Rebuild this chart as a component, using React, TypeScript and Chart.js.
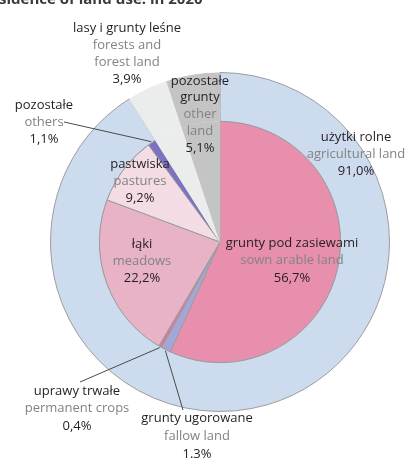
import React, { useEffect, useRef } from "react";
import { Chart, registerables } from "chart.js";

Chart.register(...registerables);

// ---- data ----
const outerCategories = ["użytki rolne", "lasy i grunty leśne", "pozostałe grunty"];
const outerValues = [91.0, 3.9, 5.1];
const innerCategories = [
  "grunty pod zasiewami",
  "grunty ugorowane",
  "uprawy trwałe",
  "łąki",
  "pastwiska",
  "pozostałe",
  "lasy i grunty leśne",
  "pozostałe grunty",
];
const innerValues = [56.7, 1.3, 0.4, 22.2, 9.2, 1.1, 3.9, 5.1];

const labelPl = [
  ["lasy i grunty leśne"],
  ["pozostałe"],
  ["pozostałe", "grunty"],
  ["użytki rolne"],
  ["pastwiska"],
  ["łąki"],
  ["grunty pod zasiewami"],
  ["uprawy trwałe"],
  ["grunty ugorowane"],
];
const labelEn = [
  ["forests and", "forest land"],
  ["others"],
  ["other", "land"],
  ["agricultural land"],
  ["pastures"],
  ["meadows"],
  ["sown arable land"],
  ["permanent crops"],
  ["fallow land"],
];
const labelPct = ["3,9%", "1,1%", "5,1%", "91,0%", "9,2%", "22,2%", "56,7%", "0,4%", "1.3%"];
const titleText = "sidence of land use: in 2020";

// ---- styles / layout ----
const outerColors = ["#cddbef", "#ebecec", "#c4c4c4"];
const innerColors = ["#e98fae", "#a6a5d8", "#dc7898", "#e8b2c7", "#f3dce4", "#7d71c2", "#ebecec", "#c4c4c4"];
const lineGray = "#9c9c9c";
const labelPos = [
  [127, 28],
  [44, 105],
  [200, 81],
  [356, 137],
  [140, 164],
  [142, 244],
  [292, 243],
  [77, 391],
  [197, 418],
];
const labelLineH = [17, 17, 16.7, 17, 17, 17, 17.5, 17.5, 18];
// leader lines: inner slice index -> free end
const leaders = [
  { index: 5, x: 64, y: 122 },
  { index: 2, x: 80, y: 382 },
  { index: 1, x: 183, y: 410 },
];

const FONT = "'Open Sans', Lato, sans-serif";

const labelPlugin = {
  id: "customLabels",
  afterDatasetsDraw(chart: any) {
    const ctx: CanvasRenderingContext2D = chart.ctx;
    ctx.save();
    // title (cut off at top)
    ctx.font = `bold 15px ${FONT}`;
    ctx.fillStyle = "#3a3a3a";
    ctx.textAlign = "left";
    ctx.textBaseline = "alphabetic";
    ctx.fillText(titleText, -1, 4);

    // leader lines
    const inner = chart.getDatasetMeta(1).data;
    ctx.strokeStyle = "#4a4a4a";
    ctx.lineWidth = 1;
    leaders.forEach((l) => {
      const arc: any = inner[l.index];
      const p = arc.getProps(["x", "y", "startAngle", "endAngle", "outerRadius"], true);
      const a = (p.startAngle + p.endAngle) / 2;
      const r = p.outerRadius + 1;
      ctx.beginPath();
      ctx.moveTo(l.x, l.y);
      ctx.lineTo(p.x + Math.cos(a) * r, p.y + Math.sin(a) * r);
      ctx.stroke();
    });

    // labels
    ctx.textAlign = "center";
    ctx.textBaseline = "middle";
    labelPl.forEach((pl, i) => {
      const [x, y0] = labelPos[i];
      const lh = labelLineH[i];
      let y = y0;
      ctx.font = `13px ${FONT}`;
      pl.forEach((t) => {
        ctx.fillStyle = "#231f20";
        ctx.fillText(t, x, y);
        y += lh;
      });
      labelEn[i].forEach((t) => {
        ctx.fillStyle = "#838383";
        ctx.fillText(t, x, y);
        y += lh;
      });
      ctx.fillStyle = "#231f20";
      ctx.fillText(labelPct[i], x, y);
    });
    ctx.restore();
  },
};

export default function App() {
  const ref = useRef<HTMLCanvasElement | null>(null);
  useEffect(() => {
    document.body.style.margin = "0";
    if (!ref.current) return;
    const outerBorder = outerColors.map((c, i) => (i === 0 ? lineGray : c));
    const innerBorder = innerColors.map((c, i) => (i >= 6 ? c : lineGray));
    const chart = new Chart(ref.current, {
      type: "pie",
      data: {
        labels: innerCategories,
        datasets: [
          {
            label: "outer",
            data: outerValues,
            backgroundColor: outerColors,
            borderColor: outerBorder,
            borderWidth: 1,
            borderAlign: outerColors.map((c, i) => (i === 0 ? "center" : "inner")) as any,
            weight: 49,
            categories: outerCategories,
          } as any,
          {
            label: "inner",
            data: innerValues,
            backgroundColor: innerColors,
            borderColor: innerBorder,
            borderWidth: 1,
            borderAlign: innerColors.map((c, i) => (i >= 6 ? "inner" : "center")) as any,
            weight: 121,
          } as any,
        ],
      },
      options: {
        responsive: false,
        animation: false,
        layout: { padding: { left: 49, right: 15, top: 72, bottom: 47 } },
        plugins: { legend: { display: false }, tooltip: { enabled: false } },
      },
      plugins: [labelPlugin],
    });
    return () => chart.destroy();
  }, []);
  return (
    <div style={{ width: 406, height: 459, background: "#fff" }}>
      <canvas ref={ref} width={406} height={459} />
    </div>
  );
}
